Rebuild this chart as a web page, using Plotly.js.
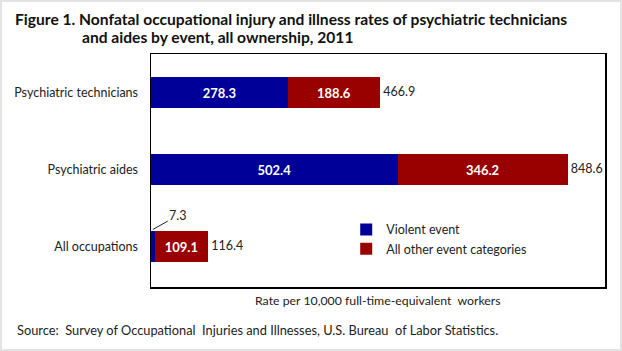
<!DOCTYPE html>
<html><head><meta charset="utf-8">
<script src="https://cdn.plot.ly/plotly-3.0.1.min.js"></script>
<style>html,body{margin:0;padding:0;background:#fff}#c{width:618px;height:347px;border:2px solid #e3e3e3}</style>
</head><body><div id="c"></div>
<script>
const categories = ["Psychiatric technicians", "Psychiatric aides", "All occupations"];
const violent = [278.3, 502.4, 7.3];
const otherEvents = [188.6, 346.2, 109.1];
const totals = [466.9, 848.6, 116.4];
const seriesNames = ["Violent event", "All other event categories"];

const F = "Lato, 'Open Sans', sans-serif";
const blue = "#000099", red = "#990000";

const traces = [
  {type:"bar", orientation:"h", name:seriesNames[0], y:categories, x:violent,
   marker:{color:blue}, text:violent.map((v,i)=> v>50 ? v.toFixed(1) : ""),
   textposition:"inside", insidetextanchor:"middle", textangle:0,
   textfont:{family:F, size:13, color:"#fff", weight:"bold"}, hoverinfo:"x"},
  {type:"bar", orientation:"h", name:seriesNames[1], y:categories, x:otherEvents,
   marker:{color:red}, text:otherEvents.map(v=>v.toFixed(1)),
   textposition:"inside", insidetextanchor:"middle", textangle:0,
   textfont:{family:F, size:13, color:"#fff", weight:"bold"}, hoverinfo:"x"},
  {type:"scatter", mode:"text", y:categories, x:totals, text:totals.map(v=>"\u00a0"+v.toFixed(1)),
   textposition:"middle right", textfont:{family:F, size:12.5, color:"#222"},
   showlegend:false, hoverinfo:"skip"}
];

const small = violent.findIndex(v=>v<50);
const layout = {
  width:618, height:347, margin:{l:149, r:15, t:52, b:62},
  paper_bgcolor:"#fff", plot_bgcolor:"#fff",
  barmode:"stack", bargap:0.59, font:{family:F, size:12, color:"#222"},
  xaxis:{range:[0,925], showticklabels:false, showgrid:false, zeroline:false,
         showline:true, mirror:true, linecolor:"#000", linewidth:1.5, ticks:""},
  yaxis:{categoryorder:"array", categoryarray:categories, autorange:"reversed",
         showgrid:false, zeroline:false, showline:true, mirror:true, linecolor:"#000",
         linewidth:1.5, ticks:"", ticklabelstandoff:9, tickfont:{family:F, size:12.5, color:"#222"}},
  showlegend:true,
  legend:{x:0.43, y:0.31, xanchor:"left", yanchor:"top", bgcolor:"rgba(0,0,0,0)",
          font:{family:F, size:12.5, color:"#222"}, itemwidth:30, tracegroupgap:4, traceorder:"normal"},
  annotations:[
    {xref:"paper", yref:"paper", x:-0.304, y:1.15, xanchor:"left", yanchor:"middle", showarrow:false,
     text:"<b>Figure 1. Nonfatal occupational injury and illness rates of psychiatric technicians</b>",
     font:{family:F, size:15.6, color:"#111"}},
    {xref:"paper", yref:"paper", x:-0.156, y:1.074, xanchor:"left", yanchor:"middle", showarrow:false,
     text:"<b>and aides by event, all ownership, 2011</b>", font:{family:F, size:15.6, color:"#111"}},
    {xref:"paper", yref:"paper", x:0.5, y:-0.06, xanchor:"center", yanchor:"middle", showarrow:false,
     text:"Rate per 10,000 full-time-equivalent  workers", font:{family:F, size:12.3, color:"#222"}},
    {xref:"paper", yref:"paper", x:-0.3, y:-0.1845, xanchor:"left", yanchor:"middle", showarrow:false,
     text:"Source:  Survey of Occupational  Injuries and Illnesses, U.S. Bureau  of Labor Statistics.",
     font:{family:F, size:12.8, color:"#222"}},
    {xref:"x", yref:"y", x:violent[small]/2, y:categories[small], yshift:17,
     text:violent[small].toFixed(1), showarrow:true, arrowhead:0, arrowwidth:1, arrowcolor:"#222",
     ax:25, ay:-14, font:{family:F, size:12.5, color:"#222"}}
  ]
};
Plotly.newPlot("c", traces, layout, {displayModeBar:false, staticPlot:true});
</script></body></html>
